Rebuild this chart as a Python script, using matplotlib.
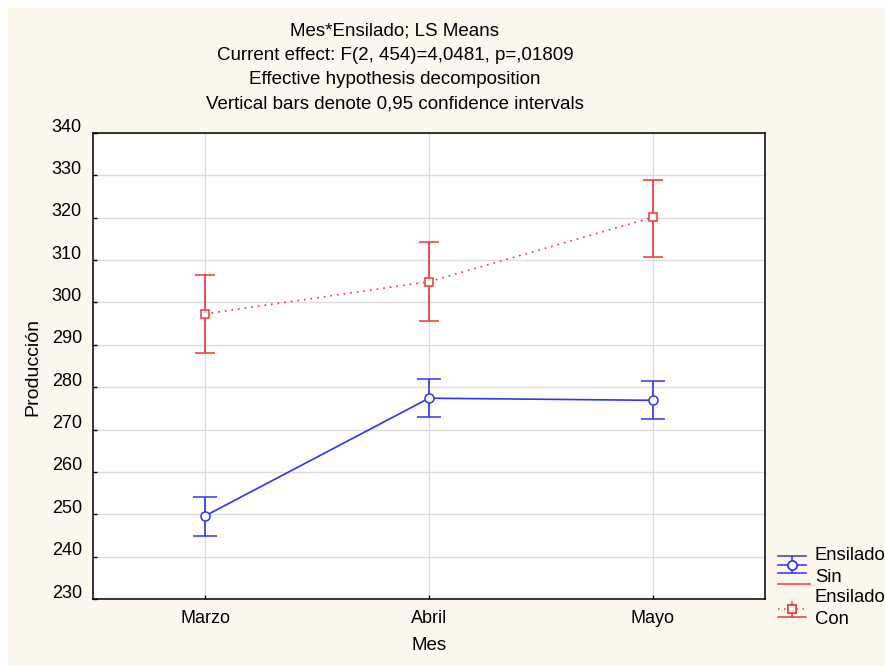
import matplotlib.pyplot as plt
import matplotlib.transforms as mtransforms
from matplotlib.lines import Line2D
from matplotlib.patches import Rectangle

plt.rcParams["font.family"] = ["Liberation Sans", "DejaVu Sans"]
plt.rcParams["font.size"] = 12

# LS means and 0.95 CI bounds
meses = ["Marzo", "Abril", "Mayo"]
sin_mean = [249.6, 277.4, 276.9]
sin_low = [244.9, 273.0, 272.6]
sin_high = [254.1, 282.0, 281.4]
con_mean = [297.3, 304.9, 320.1]
con_low = [288.1, 295.7, 310.7]
con_high = [306.5, 314.3, 329.0]

title_lines = [
    "Mes*Ensilado; LS Means",
    "Current effect: F(2, 454)=4,0481, p=,01809",
    "Effective hypothesis decomposition",
    "Vertical bars denote 0,95 confidence intervals",
]

blue = "#3434ec"
red = "#ee3535"
cream = "#fcf8ee"

fig = plt.figure(figsize=(8.85, 6.66), dpi=100, facecolor=cream)
W, H = 885, 666

# white strip on top and left edge
fig.add_artist(Rectangle((0, 1 - 8 / H), 1, 8 / H, transform=fig.transFigure,
                         facecolor="white", edgecolor="none", zorder=0))
fig.add_artist(Rectangle((0, 0), 8 / W, 1, transform=fig.transFigure,
                         facecolor="white", edgecolor="none", zorder=0))

ax = fig.add_axes([93 / W, 1 - 599 / H, (765 - 93) / W, (599 - 133) / H])
ax.set_facecolor("white")

x = list(range(len(meses)))

sin_err = [[m - l for m, l in zip(sin_mean, sin_low)],
           [h - m for m, h in zip(sin_mean, sin_high)]]
con_err = [[m - l for m, l in zip(con_mean, con_low)],
           [h - m for m, h in zip(con_mean, con_high)]]

ax.errorbar(x, sin_mean, yerr=sin_err, color=blue, lw=1.2, elinewidth=1.2,
            capsize=8.5, capthick=1.2, marker="o", ms=6.5, mfc="white",
            mec=blue, mew=1.1, zorder=3)
ax.errorbar(x, con_mean, yerr=con_err, color=red, lw=1.2, ls=(0, (1, 3)),
            elinewidth=1.2, capsize=7.5, capthick=1.2, marker="s", ms=5.5,
            mfc="white", mec=red, mew=1.1, zorder=3)

ax.set_xlim(-0.5, 2.5)
ax.set_ylim(230, 340)
ax.set_xticks(x)
ax.set_xticklabels(meses)
ax.set_yticks(range(230, 341, 10))
ax.grid(True, color="#dcdcdc", lw=1)
ax.set_axisbelow(True)
ax.tick_params(direction="in", length=3, width=1, labelsize=13, pad=8)
for s in ax.spines.values():
    s.set_linewidth(1.1)

# y tick labels sit a little above their grid lines in the original
offset = mtransforms.ScaledTranslation(0, 8 / 100, fig.dpi_scale_trans)
for lbl in ax.get_yticklabels():
    lbl.set_transform(lbl.get_transform() + offset)

ax.set_xlabel("Mes", fontsize=13.5, labelpad=7)
fig.text(33 / W, 1 - 367 / H, "Producción", rotation=90, ha="center",
         va="center", fontsize=14)

for i, line in enumerate(title_lines):
    fig.text(395 / W, 1 - (31 + i * 24.2) / H, line, ha="center",
             va="center", fontsize=13.5)

# legend drawn by hand, Statistica style
def fl(x0, x1, y0, y1, **kw):
    fig.add_artist(Line2D([x0 / W, x1 / W], [1 - y0 / H, 1 - y1 / H],
                          transform=fig.transFigure, **kw))

fl(778, 806, 556, 556, color=blue, lw=1.1)
fl(778, 806, 573, 573, color=blue, lw=1.1)
fl(792, 792, 556, 573, color=blue, lw=1.1)
fl(778, 806, 565, 565, color=blue, lw=1.1)
fl(792, 792, 565, 565, color=blue, marker="o", ms=6.5, mfc="white",
   mec=blue, mew=1.1)
fl(778, 810, 584, 584, color=red, lw=1.1)
fl(778, 806, 609, 609, color=red, lw=1.1, ls=(0, (1, 3)))
fl(792, 792, 602, 617, color=red, lw=1.1)
fl(778, 806, 617, 617, color=red, lw=1.1)
fl(792, 792, 609, 609, color=red, marker="s", ms=5.5, mfc="white",
   mec=red, mew=1.1)

for txt, yy in [("Ensilado", 555), ("Sin", 577), ("Ensilado", 598), ("Con", 620)]:
    fig.text(815 / W, 1 - yy / H, txt, ha="left", va="center", fontsize=13.3)

fig.savefig("out.png", dpi=100, facecolor=cream)
